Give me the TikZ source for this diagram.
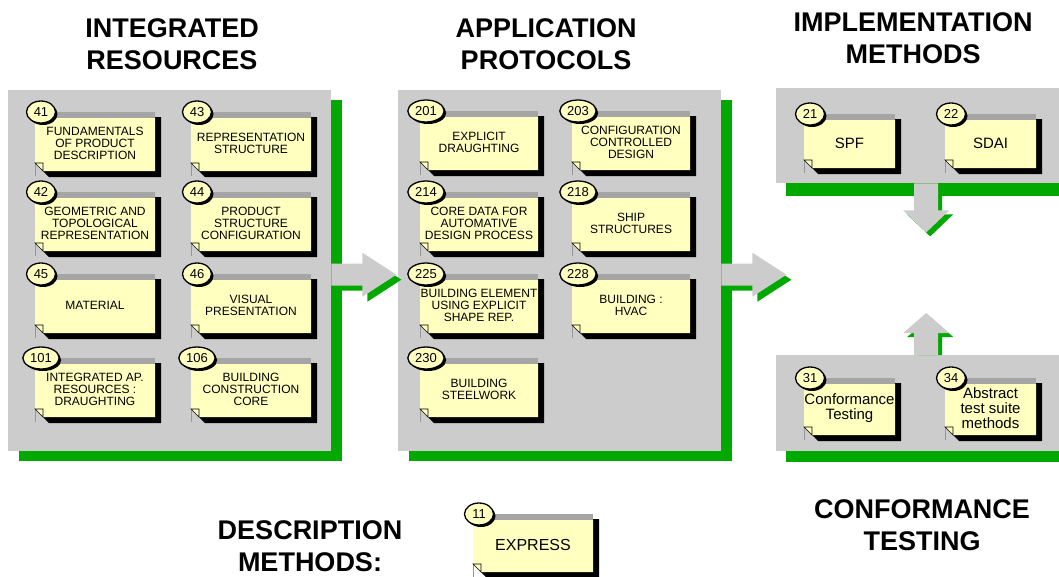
\documentclass[tikz,border=0pt]{standalone}
\usepackage{fontspec}
\setmainfont{Liberation Sans}
\usepackage{tikz}
\usetikzlibrary{shapes,shadows,calc}
\usepackage{xcolor}
\definecolor{stepgreen}{RGB}{0,168,0}
\definecolor{panelgray}{RGB}{204,204,204}
\definecolor{cardyellow}{RGB}{255,255,192}
\definecolor{stripegray}{RGB}{165,165,165}
\definecolor{edgegray}{RGB}{150,150,150}
\tikzstyle{panel} = [rectangle, fill=panelgray, anchor=north west, inner sep=0pt]
\tikzstyle{heading} = [align=center, font=\fontsize{27}{32}\selectfont\bfseries]
\tikzstyle{numbadge} = [ellipse, draw=black, line width=1.3pt, fill=cardyellow, inner xsep=2pt, inner ysep=0pt, minimum width=29pt, minimum height=22pt, font=\fontsize{13}{13}\selectfont, general shadow={fill=black, shadow xshift=2pt, shadow yshift=-2pt}]
\tikzstyle{cardtext} = [align=center, inner sep=0pt, font=\fontsize{12}{12}\selectfont]
\tikzstyle{bigtext} = [font=\fontsize{15}{15}\selectfont]
\tikzstyle{hugetext} = [font=\fontsize{16}{16}\selectfont]
\tikzstyle{blockarrow} = [fill=panelgray]
\tikzstyle{blockshade} = [fill=stepgreen]

% card: name, x, y, width, height, number, text, text style
\newcommand{\partcard}[8]{%
\begin{scope}[shift={(#2,#3)}]
\fill[black] (6,5) -- (#4+6,5) -- (#4+6,#5+6) -- (14,#5+6) -- (6,#5-2) -- cycle;
\draw[edgegray, line width=0.6pt] (0,4) -- (0,#5+5);
\fill[cardyellow] (0,6) -- (#4,6) -- (#4,#5) -- (8,#5) -- (0,#5-8) -- cycle;
\fill[stripegray] (0,0) rectangle (#4,6);
\filldraw[fill=cardyellow, draw=black, line width=0.6pt] (0,#5-8) -- (8,#5-8) -- (8,#5) -- cycle;
\node (#1) [cardtext, #8] at (#4/2,#5/2+2) {#7};
\node (#1no) [numbadge] at (6,0) {#6};
\end{scope}}

\begin{document}
\begin{tikzpicture}[x=1pt, y=-1pt]
\clip (0,0) rectangle (1059,576);

% Panels
\node (irpanel) [panel, minimum width=323pt, minimum height=361pt, general shadow={fill=stepgreen, shadow xshift=11pt, shadow yshift=-10pt}] at (8,90) {};
\node (appanel) [panel, minimum width=323pt, minimum height=361pt, general shadow={fill=stepgreen, shadow xshift=11pt, shadow yshift=-10pt}] at (398,90) {};
\node (impanel) [panel, minimum width=290pt, minimum height=95pt, general shadow={fill=stepgreen, shadow xshift=10pt, shadow yshift=-13pt}] at (776,88) {};
\node (ctpanel) [panel, minimum width=290pt, minimum height=96pt, general shadow={fill=stepgreen, shadow xshift=10pt, shadow yshift=-11pt}] at (776,355) {};

% Headings
\node (irtitle) [heading] at (172,44) {INTEGRATED\\RESOURCES};
\node (aptitle) [heading] at (546,44) {APPLICATION\\PROTOCOLS};
\node (imtitle) [heading] at (913,38) {IMPLEMENTATION\\METHODS};
\node (cttitle) [heading] at (922,525) {CONFORMANCE\\TESTING};
\node (dmtitle) [heading] at (310,546) {DESCRIPTION\\METHODS:};

% Arrows between the panels
\foreach \p in {irpanel, appanel} {
\fill[blockshade] ($(\p.east)+(5,9)$) ++(0,-11) -- ++(31,0) -- ++(0,-11) -- ++(34,22) -- ++(-34,22) -- ++(0,-11) -- ++(-31,0) -- cycle;
\fill[blockarrow] ($(\p.east)+(0,4)$) ++(0,-11) -- ++(31,0) -- ++(0,-11) -- ++(34,22) -- ++(-34,22) -- ++(0,-11) -- ++(-31,0) -- cycle;
}
\fill[blockshade] ($(impanel.south)+(-3,4)$) -- ++(0,27) -- ++(-11,0) -- ++(23,22) -- ++(23,-22) -- ++(-11,0) -- ++(0,-27) -- cycle;
\fill[blockarrow] ($(impanel.south)+(-7,0)$) -- ++(0,27) -- ++(-11,0) -- ++(23,22) -- ++(23,-22) -- ++(-11,0) -- ++(0,-27) -- cycle;
\fill[blockshade] ($(ctpanel.north)+(-3,0)$) -- ++(0,-18) -- ++(-11,0) -- ++(23,-20) -- ++(23,20) -- ++(-11,0) -- ++(0,18) -- cycle;
\fill[blockarrow] ($(ctpanel.north)+(-7,0)$) -- ++(0,-22) -- ++(-11,0) -- ++(23,-20) -- ++(23,20) -- ++(-11,0) -- ++(0,22) -- cycle;

% Integrated resources
\partcard{c41}{35}{112}{120}{59}{41}{FUNDAMENTALS\\OF PRODUCT\\DESCRIPTION}{}
\partcard{c43}{191}{112}{120}{59}{43}{REPRESENTATION\\STRUCTURE}{}
\partcard{c42}{35}{192}{120}{59}{42}{GEOMETRIC AND\\TOPOLOGICAL\\REPRESENTATION}{}
\partcard{c44}{191}{192}{120}{59}{44}{PRODUCT\\STRUCTURE\\CONFIGURATION}{}
\partcard{c45}{35}{274}{120}{59}{45}{MATERIAL}{}
\partcard{c46}{191}{274}{120}{59}{46}{VISUAL\\PRESENTATION}{}
\partcard{c101}{35}{358}{120}{59}{101}{INTEGRATED AP.\\RESOURCES :\\DRAUGHTING}{}
\partcard{c106}{191}{358}{120}{59}{106}{BUILDING\\CONSTRUCTION\\CORE}{}

% Application protocols
\partcard{c201}{420}{111}{118}{59}{201}{EXPLICIT\\DRAUGHTING}{}
\partcard{c203}{572}{111}{118}{59}{203}{CONFIGURATION\\CONTROLLED\\DESIGN}{}
\partcard{c214}{420}{192}{118}{59}{214}{CORE DATA FOR\\AUTOMATIVE\\DESIGN PROCESS}{}
\partcard{c218}{572}{192}{118}{59}{218}{SHIP\\STRUCTURES}{}
\partcard{c225}{420}{274}{118}{59}{225}{BUILDING ELEMENT\\USING EXPLICIT\\SHAPE REP.}{}
\partcard{c228}{572}{274}{118}{59}{228}{BUILDING :\\HVAC}{}
\partcard{c230}{420}{358}{118}{59}{230}{BUILDING\\STEELWORK}{}

% Implementation methods and conformance testing
\partcard{c21}{804}{114}{91}{54}{21}{SPF}{bigtext}
\partcard{c22}{945}{114}{91}{54}{22}{SDAI}{bigtext}
\partcard{c31}{804}{378}{91}{57}{31}{Conformance\\Testing}{bigtext}
\partcard{c34}{945}{378}{91}{57}{34}{Abstract\\test suite\\methods}{bigtext}

% Description methods
\partcard{c11}{473}{514}{120}{58}{11}{EXPRESS}{hugetext}
\end{tikzpicture}
\end{document}
